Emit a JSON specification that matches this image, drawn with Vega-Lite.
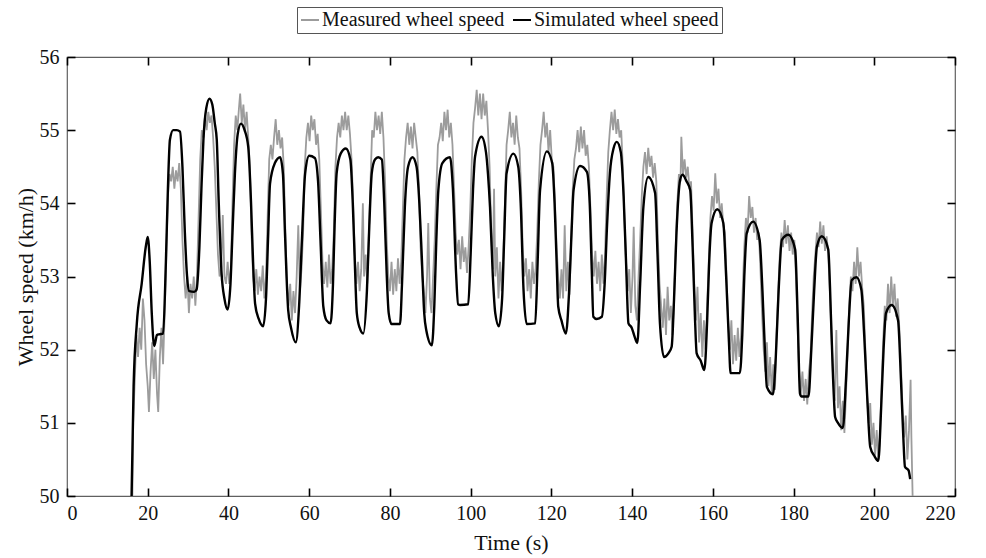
{
 "$schema": "https://vega.github.io/schema/vega-lite/v6.json",
 "width": 888, "height": 439,
 "autosize": {"type": "none"},
 "padding": {"left": 67, "top": 57, "right": 31, "bottom": 62},
 "background": "white",
 "config": {
  "font": "Liberation Serif",
  "view": {"stroke": "#606060", "strokeWidth": 1.2, "fill": null},
  "axis": {"domain": false, "grid": false, "ticks": true, "zindex": 2, "offset": -8, "tickColor": "#000000", "tickOpacity": 1, "tickSize": 8, "tickWidth": 1.6, "labelFontSize": 20, "labelColor": "#111", "titleFontSize": 22, "titleFontWeight": "normal", "titleColor": "#111", "labelFont": "Liberation Serif", "titleFont": "Liberation Serif"},
  "legend": {"orient": "none", "legendX": 230, "legendY": -50, "direction": "horizontal", "strokeColor": "#555", "fillColor": "white", "padding": 3, "labelFontSize": 20, "labelLimit": 0, "labelFont": "Liberation Serif", "labelColor": "#111", "symbolType": "stroke", "symbolStrokeWidth": 2, "symbolSize": 324, "columnPadding": 4, "labelOffset": 2}
 },
 "datasets": {
  "measured": [
{"t":16.2,"v":50.0},{"t":16.4,"v":51.0},{"t":16.8,"v":51.6},{"t":17.2,"v":52.2},{"t":17.6,"v":51.9},{"t":18.0,"v":52.3},{"t":18.4,"v":52.0},{"t":18.8,"v":52.7},{"t":19.2,"v":52.4},{"t":19.6,"v":51.8},{"t":20.0,"v":51.5},{"t":20.3,"v":51.15},{"t":20.7,"v":51.7},{"t":21.1,"v":52.1},{"t":21.5,"v":51.6},{"t":21.9,"v":52.0},{"t":22.3,"v":51.4},{"t":22.6,"v":51.15},{"t":23.0,"v":51.9},{"t":23.4,"v":52.3},{"t":23.8,"v":51.8},{"t":24.2,"v":52.5},{"t":24.6,"v":53.3},{"t":25.0,"v":54.1},{"t":25.4,"v":54.4},{"t":25.8,"v":54.3},{"t":26.2,"v":54.5},{"t":26.6,"v":54.2},{"t":27.0,"v":54.45},{"t":27.4,"v":54.3},{"t":27.8,"v":54.55},{"t":28.2,"v":54.2},{"t":28.6,"v":53.5},{"t":29.0,"v":53.0},{"t":29.4,"v":52.7},{"t":29.8,"v":53.0},{"t":30.2,"v":52.5},{"t":30.6,"v":52.9},{"t":31.0,"v":52.7},{"t":31.4,"v":53.0},{"t":31.8,"v":52.6},{"t":32.2,"v":53.0},{"t":32.6,"v":53.8},{"t":33.0,"v":54.6},{"t":33.4,"v":55.0},{"t":33.8,"v":54.9},{"t":34.2,"v":55.2},{"t":34.6,"v":55.0},{"t":35.0,"v":55.25},{"t":35.4,"v":55.1},{"t":35.8,"v":55.2},{"t":36.2,"v":54.9},{"t":36.6,"v":54.5},{"t":37.0,"v":53.9},{"t":37.4,"v":53.3},{"t":37.8,"v":53.0},{"t":38.2,"v":53.1},{"t":38.6,"v":53.84},{"t":39.0,"v":53.0},{"t":39.4,"v":52.9},{"t":39.8,"v":53.2},{"t":40.2,"v":52.9},{"t":40.6,"v":53.1},{"t":41.0,"v":54.0},{"t":41.4,"v":54.8},{"t":41.8,"v":55.2},{"t":42.2,"v":55.0},{"t":42.6,"v":55.3},{"t":42.9,"v":55.5},{"t":43.3,"v":55.1},{"t":43.7,"v":55.35},{"t":44.1,"v":55.0},{"t":44.5,"v":55.25},{"t":44.9,"v":54.9},{"t":45.3,"v":54.5},{"t":45.7,"v":53.6},{"t":46.1,"v":53.0},{"t":46.5,"v":52.8},{"t":46.9,"v":53.1},{"t":47.3,"v":52.75},{"t":47.7,"v":53.0},{"t":48.1,"v":52.8},{"t":48.5,"v":53.15},{"t":48.9,"v":52.7},{"t":49.3,"v":53.0},{"t":49.7,"v":53.8},{"t":50.1,"v":54.6},{"t":50.5,"v":54.8},{"t":50.9,"v":54.6},{"t":51.3,"v":54.9},{"t":51.7,"v":55.15},{"t":52.1,"v":54.8},{"t":52.5,"v":55.0},{"t":52.9,"v":54.75},{"t":53.3,"v":54.9},{"t":53.7,"v":54.5},{"t":54.1,"v":53.6},{"t":54.5,"v":52.9},{"t":54.9,"v":52.6},{"t":55.3,"v":52.9},{"t":55.7,"v":52.4},{"t":56.1,"v":52.8},{"t":56.5,"v":52.5},{"t":56.9,"v":53.0},{"t":57.3,"v":53.7},{"t":57.7,"v":52.8},{"t":58.1,"v":53.1},{"t":58.5,"v":53.6},{"t":58.9,"v":54.5},{"t":59.3,"v":54.9},{"t":59.7,"v":55.1},{"t":60.1,"v":54.85},{"t":60.5,"v":55.2},{"t":60.9,"v":55.0},{"t":61.3,"v":55.15},{"t":61.7,"v":54.8},{"t":62.1,"v":54.95},{"t":62.5,"v":54.6},{"t":62.9,"v":53.9},{"t":63.3,"v":53.2},{"t":63.7,"v":52.9},{"t":64.1,"v":53.2},{"t":64.5,"v":52.85},{"t":64.9,"v":53.3},{"t":65.3,"v":52.9},{"t":65.7,"v":53.1},{"t":66.1,"v":53.6},{"t":66.5,"v":54.5},{"t":66.9,"v":54.9},{"t":67.3,"v":55.1},{"t":67.7,"v":54.9},{"t":68.1,"v":55.2},{"t":68.5,"v":55.0},{"t":68.9,"v":55.25},{"t":69.3,"v":55.0},{"t":69.7,"v":55.2},{"t":70.1,"v":54.95},{"t":70.5,"v":54.6},{"t":70.9,"v":54.0},{"t":71.3,"v":53.3},{"t":71.7,"v":52.9},{"t":72.1,"v":53.2},{"t":72.5,"v":52.8},{"t":72.9,"v":53.1},{"t":73.3,"v":54.0},{"t":73.6,"v":53.0},{"t":74.0,"v":53.3},{"t":74.4,"v":52.9},{"t":74.8,"v":53.6},{"t":75.2,"v":54.3},{"t":75.6,"v":55.0},{"t":76.0,"v":54.9},{"t":76.4,"v":55.25},{"t":76.8,"v":55.0},{"t":77.2,"v":55.2},{"t":77.6,"v":54.95},{"t":78.0,"v":55.25},{"t":78.4,"v":54.9},{"t":78.8,"v":54.3},{"t":79.2,"v":53.5},{"t":79.6,"v":53.0},{"t":80.0,"v":52.8},{"t":80.4,"v":53.2},{"t":80.8,"v":52.75},{"t":81.2,"v":53.1},{"t":81.6,"v":52.8},{"t":82.0,"v":53.25},{"t":82.4,"v":52.9},{"t":82.8,"v":53.2},{"t":83.2,"v":53.9},{"t":83.6,"v":54.6},{"t":84.0,"v":54.9},{"t":84.4,"v":55.1},{"t":84.8,"v":54.8},{"t":85.2,"v":55.05},{"t":85.6,"v":54.75},{"t":86.0,"v":55.1},{"t":86.4,"v":54.9},{"t":86.8,"v":54.7},{"t":87.2,"v":54.2},{"t":87.6,"v":53.4},{"t":88.0,"v":53.0},{"t":88.4,"v":52.8},{"t":88.8,"v":52.5},{"t":89.2,"v":53.0},{"t":89.5,"v":53.73},{"t":89.9,"v":52.7},{"t":90.3,"v":52.5},{"t":90.7,"v":53.0},{"t":91.1,"v":53.5},{"t":91.5,"v":54.2},{"t":91.9,"v":54.8},{"t":92.3,"v":54.9},{"t":92.7,"v":55.1},{"t":93.1,"v":54.85},{"t":93.5,"v":55.25},{"t":93.9,"v":55.0},{"t":94.3,"v":55.28},{"t":94.7,"v":54.9},{"t":95.1,"v":55.1},{"t":95.5,"v":54.8},{"t":95.9,"v":54.2},{"t":96.3,"v":53.6},{"t":96.7,"v":53.3},{"t":97.1,"v":53.5},{"t":97.5,"v":53.1},{"t":97.9,"v":53.55},{"t":98.3,"v":53.2},{"t":98.7,"v":53.4},{"t":99.1,"v":53.05},{"t":99.5,"v":53.4},{"t":99.9,"v":53.9},{"t":100.3,"v":54.6},{"t":100.7,"v":55.1},{"t":101.1,"v":55.3},{"t":101.5,"v":55.55},{"t":101.9,"v":55.2},{"t":102.3,"v":55.5},{"t":102.7,"v":55.15},{"t":103.1,"v":55.5},{"t":103.5,"v":55.2},{"t":103.9,"v":55.4},{"t":104.3,"v":55.0},{"t":104.7,"v":54.5},{"t":105.1,"v":53.6},{"t":105.5,"v":53.1},{"t":105.8,"v":54.2},{"t":106.1,"v":53.0},{"t":106.5,"v":53.4},{"t":106.9,"v":52.7},{"t":107.3,"v":53.2},{"t":107.7,"v":52.8},{"t":108.1,"v":53.3},{"t":108.5,"v":54.0},{"t":108.9,"v":54.8},{"t":109.3,"v":55.0},{"t":109.7,"v":55.25},{"t":110.1,"v":54.9},{"t":110.5,"v":55.1},{"t":110.9,"v":54.8},{"t":111.3,"v":55.2},{"t":111.7,"v":54.9},{"t":112.1,"v":54.75},{"t":112.5,"v":54.2},{"t":112.9,"v":53.4},{"t":113.3,"v":53.0},{"t":113.7,"v":53.25},{"t":114.1,"v":52.8},{"t":114.5,"v":53.1},{"t":114.9,"v":52.7},{"t":115.3,"v":53.2},{"t":115.7,"v":52.9},{"t":116.1,"v":53.1},{"t":116.5,"v":53.6},{"t":116.9,"v":54.3},{"t":117.3,"v":54.8},{"t":117.7,"v":55.0},{"t":118.1,"v":55.25},{"t":118.5,"v":54.9},{"t":118.9,"v":55.1},{"t":119.3,"v":54.7},{"t":119.7,"v":55.0},{"t":120.1,"v":54.6},{"t":120.5,"v":54.5},{"t":120.9,"v":54.0},{"t":121.3,"v":53.4},{"t":121.7,"v":53.0},{"t":122.1,"v":52.7},{"t":122.5,"v":53.1},{"t":122.9,"v":52.7},{"t":123.3,"v":53.7},{"t":123.7,"v":52.8},{"t":124.1,"v":53.2},{"t":124.5,"v":52.75},{"t":124.9,"v":53.5},{"t":125.3,"v":54.2},{"t":125.7,"v":54.6},{"t":126.1,"v":54.75},{"t":126.5,"v":55.0},{"t":126.9,"v":54.7},{"t":127.3,"v":55.05},{"t":127.7,"v":54.75},{"t":128.1,"v":55.0},{"t":128.5,"v":54.65},{"t":128.9,"v":54.8},{"t":129.3,"v":54.5},{"t":129.7,"v":53.9},{"t":130.1,"v":53.3},{"t":130.5,"v":53.0},{"t":130.9,"v":53.35},{"t":131.3,"v":52.9},{"t":131.7,"v":53.2},{"t":132.1,"v":52.8},{"t":132.5,"v":53.3},{"t":132.9,"v":52.9},{"t":133.3,"v":53.3},{"t":133.7,"v":54.1},{"t":134.1,"v":54.7},{"t":134.5,"v":55.0},{"t":134.9,"v":55.25},{"t":135.3,"v":55.0},{"t":135.7,"v":55.28},{"t":136.1,"v":54.95},{"t":136.5,"v":55.15},{"t":136.9,"v":54.9},{"t":137.3,"v":55.0},{"t":137.7,"v":54.5},{"t":138.1,"v":53.8},{"t":138.5,"v":53.2},{"t":138.9,"v":52.8},{"t":139.3,"v":53.1},{"t":139.7,"v":52.5},{"t":140.1,"v":53.0},{"t":140.4,"v":53.68},{"t":140.8,"v":52.6},{"t":141.2,"v":52.4},{"t":141.6,"v":53.0},{"t":142.0,"v":53.5},{"t":142.4,"v":54.1},{"t":142.8,"v":54.5},{"t":143.2,"v":54.7},{"t":143.6,"v":54.4},{"t":144.0,"v":54.76},{"t":144.4,"v":54.5},{"t":144.8,"v":54.65},{"t":145.2,"v":54.35},{"t":145.6,"v":54.55},{"t":146.0,"v":54.3},{"t":146.4,"v":53.5},{"t":146.8,"v":52.9},{"t":147.2,"v":52.6},{"t":147.6,"v":52.3},{"t":148.0,"v":52.7},{"t":148.4,"v":52.2},{"t":148.8,"v":52.86},{"t":149.2,"v":52.4},{"t":149.6,"v":52.6},{"t":150.0,"v":52.2},{"t":150.4,"v":52.7},{"t":150.8,"v":53.4},{"t":151.2,"v":54.0},{"t":151.6,"v":54.4},{"t":152.0,"v":54.3},{"t":152.2,"v":54.91},{"t":152.6,"v":54.4},{"t":153.0,"v":54.6},{"t":153.4,"v":54.35},{"t":153.8,"v":54.5},{"t":154.2,"v":54.2},{"t":154.6,"v":54.3},{"t":155.0,"v":53.6},{"t":155.4,"v":52.9},{"t":155.8,"v":52.4},{"t":156.2,"v":52.86},{"t":156.6,"v":52.1},{"t":157.0,"v":52.5},{"t":157.4,"v":51.9},{"t":157.8,"v":52.4},{"t":158.2,"v":52.0},{"t":158.6,"v":52.6},{"t":159.0,"v":53.2},{"t":159.4,"v":53.8},{"t":159.8,"v":54.1},{"t":160.2,"v":53.9},{"t":160.6,"v":54.41},{"t":161.0,"v":54.0},{"t":161.4,"v":54.2},{"t":161.8,"v":53.8},{"t":162.2,"v":54.0},{"t":162.6,"v":53.7},{"t":163.0,"v":53.6},{"t":163.4,"v":53.0},{"t":163.8,"v":52.4},{"t":164.2,"v":52.0},{"t":164.6,"v":52.4},{"t":165.0,"v":51.8},{"t":165.4,"v":52.2},{"t":165.8,"v":51.85},{"t":166.2,"v":52.3},{"t":166.6,"v":51.9},{"t":167.0,"v":52.2},{"t":167.4,"v":52.8},{"t":167.8,"v":53.4},{"t":168.2,"v":53.8},{"t":168.6,"v":53.6},{"t":169.0,"v":54.1},{"t":169.4,"v":53.8},{"t":169.8,"v":53.95},{"t":170.2,"v":53.6},{"t":170.6,"v":53.8},{"t":171.0,"v":53.5},{"t":171.4,"v":53.6},{"t":171.8,"v":53.1},{"t":172.2,"v":52.5},{"t":172.6,"v":52.0},{"t":173.0,"v":51.7},{"t":173.4,"v":52.1},{"t":173.8,"v":51.5},{"t":174.2,"v":51.9},{"t":174.6,"v":51.4},{"t":175.0,"v":51.8},{"t":175.4,"v":51.45},{"t":175.8,"v":52.2},{"t":176.2,"v":52.8},{"t":176.6,"v":53.3},{"t":177.0,"v":53.6},{"t":177.4,"v":53.4},{"t":177.8,"v":53.77},{"t":178.2,"v":53.45},{"t":178.6,"v":53.7},{"t":179.0,"v":53.35},{"t":179.4,"v":53.6},{"t":179.8,"v":53.3},{"t":180.2,"v":53.5},{"t":180.6,"v":53.0},{"t":181.0,"v":52.3},{"t":181.4,"v":51.7},{"t":181.8,"v":51.4},{"t":182.2,"v":51.7},{"t":182.6,"v":51.3},{"t":183.0,"v":51.6},{"t":183.4,"v":51.25},{"t":183.8,"v":51.7},{"t":184.2,"v":51.9},{"t":184.6,"v":52.5},{"t":185.0,"v":53.0},{"t":185.4,"v":53.3},{"t":185.8,"v":53.6},{"t":186.2,"v":53.4},{"t":186.6,"v":53.75},{"t":187.0,"v":53.45},{"t":187.4,"v":53.7},{"t":187.8,"v":53.35},{"t":188.2,"v":53.55},{"t":188.6,"v":53.3},{"t":189.0,"v":52.8},{"t":189.4,"v":52.2},{"t":189.8,"v":51.6},{"t":190.2,"v":51.3},{"t":190.6,"v":52.27},{"t":191.0,"v":51.2},{"t":191.4,"v":51.5},{"t":191.8,"v":50.9},{"t":192.2,"v":51.3},{"t":192.6,"v":50.86},{"t":193.0,"v":51.4},{"t":193.4,"v":52.0},{"t":193.8,"v":52.6},{"t":194.2,"v":53.0},{"t":194.6,"v":52.8},{"t":195.0,"v":53.2},{"t":195.4,"v":52.9},{"t":195.8,"v":53.4},{"t":196.2,"v":53.0},{"t":196.6,"v":53.2},{"t":197.0,"v":52.85},{"t":197.4,"v":52.6},{"t":197.8,"v":52.0},{"t":198.2,"v":51.4},{"t":198.6,"v":51.0},{"t":199.0,"v":51.27},{"t":199.4,"v":50.7},{"t":199.8,"v":51.0},{"t":200.2,"v":50.55},{"t":200.6,"v":50.9},{"t":201.0,"v":50.5},{"t":201.4,"v":50.8},{"t":201.8,"v":51.5},{"t":202.2,"v":52.1},{"t":202.6,"v":52.6},{"t":203.0,"v":52.4},{"t":203.4,"v":52.9},{"t":203.8,"v":52.5},{"t":204.2,"v":53.0},{"t":204.6,"v":52.6},{"t":205.0,"v":52.9},{"t":205.4,"v":52.45},{"t":205.8,"v":52.7},{"t":206.2,"v":52.3},{"t":206.6,"v":51.8},{"t":207.0,"v":51.2},{"t":207.4,"v":50.8},{"t":207.8,"v":51.1},{"t":208.2,"v":50.5},{"t":208.6,"v":50.9},{"t":209.0,"v":51.59},{"t":209.2,"v":50.8},{"t":209.5,"v":50.0}
  ],
  "simulated": [
{"t":16.0,"v":50.0},{"t":16.5,"v":51.5},{"t":17.3,"v":52.36},{"t":18.5,"v":52.9},{"t":19.5,"v":53.4},{"t":20.0,"v":53.54},{"t":20.5,"v":53.2},{"t":21.0,"v":52.5},{"t":21.6,"v":52.05},{"t":22.3,"v":52.2},{"t":22.8,"v":52.21},{"t":23.8,"v":52.22},{"t":24.5,"v":53.2},{"t":25.0,"v":54.2},{"t":25.5,"v":54.87},{"t":26.3,"v":55.0},{"t":27.2,"v":55.0},{"t":28.0,"v":54.98},{"t":28.6,"v":54.5},{"t":29.2,"v":53.6},{"t":29.7,"v":53.04},{"t":30.3,"v":52.8},{"t":31.5,"v":52.79},{"t":32.1,"v":52.82},{"t":32.8,"v":53.4},{"t":33.3,"v":54.2},{"t":33.8,"v":54.87},{"t":34.5,"v":55.3},{"t":35.3,"v":55.43},{"t":36.0,"v":55.35},{"t":36.6,"v":55.1},{"t":37.1,"v":54.87},{"t":37.6,"v":54.0},{"t":38.3,"v":53.04},{"t":39.0,"v":52.7},{"t":39.8,"v":52.55},{"t":40.5,"v":52.9},{"t":41.0,"v":53.6},{"t":41.6,"v":54.41},{"t":42.3,"v":54.95},{"t":43.1,"v":55.09},{"t":44.0,"v":55.0},{"t":44.9,"v":54.77},{"t":45.6,"v":54.0},{"t":46.1,"v":53.2},{"t":46.6,"v":52.63},{"t":47.5,"v":52.42},{"t":48.6,"v":52.32},{"t":49.3,"v":52.7},{"t":49.8,"v":53.5},{"t":50.3,"v":54.27},{"t":51.5,"v":54.55},{"t":52.8,"v":54.63},{"t":53.5,"v":54.4},{"t":54.0,"v":53.6},{"t":54.8,"v":52.54},{"t":55.5,"v":52.3},{"t":56.7,"v":52.1},{"t":57.5,"v":52.6},{"t":58.2,"v":53.5},{"t":59.0,"v":54.41},{"t":60.0,"v":54.65},{"t":61.4,"v":54.62},{"t":62.2,"v":54.3},{"t":62.8,"v":53.5},{"t":63.5,"v":52.59},{"t":64.3,"v":52.4},{"t":65.3,"v":52.36},{"t":65.9,"v":52.9},{"t":66.3,"v":53.7},{"t":66.8,"v":54.41},{"t":67.8,"v":54.68},{"t":69.1,"v":54.75},{"t":70.2,"v":54.6},{"t":70.8,"v":54.0},{"t":71.3,"v":53.2},{"t":71.8,"v":52.5},{"t":72.5,"v":52.3},{"t":73.4,"v":52.22},{"t":74.3,"v":52.8},{"t":74.9,"v":53.7},{"t":75.5,"v":54.41},{"t":76.3,"v":54.6},{"t":77.1,"v":54.63},{"t":78.0,"v":54.6},{"t":78.6,"v":54.0},{"t":79.2,"v":53.04},{"t":79.7,"v":52.5},{"t":80.4,"v":52.35},{"t":82.5,"v":52.35},{"t":83.0,"v":52.9},{"t":83.7,"v":53.95},{"t":84.5,"v":54.5},{"t":85.6,"v":54.63},{"t":86.6,"v":54.5},{"t":87.3,"v":54.0},{"t":87.9,"v":53.27},{"t":88.5,"v":52.5},{"t":89.0,"v":52.27},{"t":90.4,"v":52.06},{"t":91.0,"v":52.6},{"t":91.5,"v":53.5},{"t":92.0,"v":54.18},{"t":93.0,"v":54.55},{"t":94.9,"v":54.63},{"t":95.6,"v":54.2},{"t":96.4,"v":53.04},{"t":96.9,"v":52.62},{"t":97.4,"v":52.61},{"t":99.4,"v":52.62},{"t":100.0,"v":53.3},{"t":100.6,"v":54.2},{"t":101.1,"v":54.64},{"t":102.7,"v":54.91},{"t":103.8,"v":54.7},{"t":104.3,"v":54.4},{"t":104.8,"v":53.95},{"t":105.5,"v":53.0},{"t":106.1,"v":52.5},{"t":107.0,"v":52.32},{"t":107.8,"v":52.7},{"t":108.3,"v":53.5},{"t":108.9,"v":54.41},{"t":110.6,"v":54.68},{"t":111.8,"v":54.5},{"t":112.4,"v":54.0},{"t":113.1,"v":52.82},{"t":113.9,"v":52.35},{"t":116.0,"v":52.36},{"t":116.6,"v":53.2},{"t":117.2,"v":54.18},{"t":118.9,"v":54.71},{"t":120.2,"v":54.55},{"t":120.8,"v":54.0},{"t":121.3,"v":53.2},{"t":121.7,"v":52.59},{"t":122.5,"v":52.4},{"t":123.6,"v":52.22},{"t":124.4,"v":52.8},{"t":125.0,"v":53.6},{"t":125.5,"v":54.18},{"t":127.1,"v":54.51},{"t":128.8,"v":54.43},{"t":129.5,"v":54.0},{"t":130.0,"v":53.1},{"t":130.4,"v":52.45},{"t":131.2,"v":52.42},{"t":132.5,"v":52.45},{"t":133.2,"v":52.9},{"t":133.8,"v":53.7},{"t":134.5,"v":54.41},{"t":135.4,"v":54.75},{"t":136.2,"v":54.84},{"t":137.2,"v":54.7},{"t":137.9,"v":54.1},{"t":138.5,"v":53.2},{"t":139.1,"v":52.36},{"t":139.9,"v":52.3},{"t":140.5,"v":52.2},{"t":141.3,"v":52.09},{"t":142.0,"v":52.9},{"t":142.8,"v":53.95},{"t":144.0,"v":54.36},{"t":145.7,"v":54.14},{"t":146.3,"v":53.3},{"t":146.9,"v":52.36},{"t":147.9,"v":51.9},{"t":149.0,"v":51.95},{"t":149.8,"v":52.04},{"t":150.4,"v":52.7},{"t":151.0,"v":53.6},{"t":151.9,"v":54.32},{"t":152.5,"v":54.39},{"t":153.5,"v":54.3},{"t":154.4,"v":54.18},{"t":155.0,"v":53.4},{"t":155.6,"v":52.4},{"t":156.0,"v":51.95},{"t":157.0,"v":51.85},{"t":157.9,"v":51.72},{"t":158.6,"v":52.4},{"t":159.1,"v":53.2},{"t":159.7,"v":53.73},{"t":161.1,"v":53.92},{"t":162.6,"v":53.73},{"t":163.3,"v":53.0},{"t":164.0,"v":52.1},{"t":164.4,"v":51.68},{"t":166.7,"v":51.68},{"t":167.3,"v":52.2},{"t":167.8,"v":53.0},{"t":168.4,"v":53.59},{"t":170.0,"v":53.75},{"t":171.6,"v":53.5},{"t":172.3,"v":52.8},{"t":172.9,"v":52.0},{"t":173.4,"v":51.49},{"t":174.9,"v":51.39},{"t":175.6,"v":51.9},{"t":176.3,"v":52.8},{"t":177.1,"v":53.5},{"t":178.7,"v":53.57},{"t":180.4,"v":53.37},{"t":181.0,"v":52.5},{"t":181.6,"v":51.4},{"t":182.0,"v":51.36},{"t":183.7,"v":51.36},{"t":184.4,"v":52.0},{"t":185.1,"v":52.8},{"t":185.8,"v":53.41},{"t":187.0,"v":53.55},{"t":188.6,"v":53.37},{"t":189.3,"v":52.4},{"t":189.8,"v":51.6},{"t":190.3,"v":51.08},{"t":191.0,"v":51.0},{"t":192.2,"v":50.93},{"t":193.0,"v":51.6},{"t":193.7,"v":52.4},{"t":194.4,"v":52.95},{"t":195.6,"v":52.99},{"t":196.8,"v":52.82},{"t":197.5,"v":52.2},{"t":198.3,"v":51.3},{"t":199.0,"v":50.67},{"t":200.0,"v":50.55},{"t":201.0,"v":50.48},{"t":201.7,"v":51.2},{"t":202.3,"v":52.0},{"t":202.9,"v":52.5},{"t":204.3,"v":52.61},{"t":205.9,"v":52.4},{"t":206.6,"v":51.6},{"t":207.2,"v":50.8},{"t":207.6,"v":50.4},{"t":208.5,"v":50.35},{"t":208.9,"v":50.23}
  ]
 },
 "resolve": {"axis": {"x": "independent", "y": "independent"}},
 "layer": [
  {
   "data": {"name": "measured"},
   "mark": {"type": "line", "strokeWidth": 1.8, "clip": true},
   "encoding": {
    "x": {"field": "t", "type": "quantitative", "scale": {"domain": [0, 220], "nice": false}, "axis": {"orient": "bottom", "values": [0,20,40,60,80,100,120,140,160,180,200,220], "title": "Time (s)", "labelPadding": 7, "titlePadding": 9}},
    "y": {"field": "v", "type": "quantitative", "scale": {"domain": [50, 56], "nice": false, "zero": false}, "axis": {"orient": "left", "values": [50,51,52,53,54,55,56], "title": "Wheel speed (km/h)", "labelPadding": 8, "titlePadding": 2}},
    "color": {"datum": "Measured wheel speed", "type": "nominal", "scale": {"domain": ["Measured wheel speed", "Simulated wheel speed"], "range": ["#9c9c9c", "#000000"]}, "legend": {"title": null}}
   }
  },
  {
   "data": {"name": "simulated"},
   "mark": {"type": "line", "strokeWidth": 2.4, "interpolate": "monotone", "clip": true},
   "encoding": {
    "x": {"field": "t", "type": "quantitative", "axis": null},
    "y": {"field": "v", "type": "quantitative", "axis": null},
    "color": {"datum": "Simulated wheel speed", "type": "nominal"}
   }
  },
  {
   "data": {"name": "simulated"},
   "mark": {"type": "point", "opacity": 0},
   "encoding": {
    "x": {"field": "t", "type": "quantitative", "axis": {"orient": "top", "values": [0,20,40,60,80,100,120,140,160,180,200,220], "labels": false, "title": null}},
    "y": {"field": "v", "type": "quantitative", "axis": {"orient": "right", "values": [50,51,52,53,54,55,56], "labels": false, "title": null}}
   }
  }
 ]
}
